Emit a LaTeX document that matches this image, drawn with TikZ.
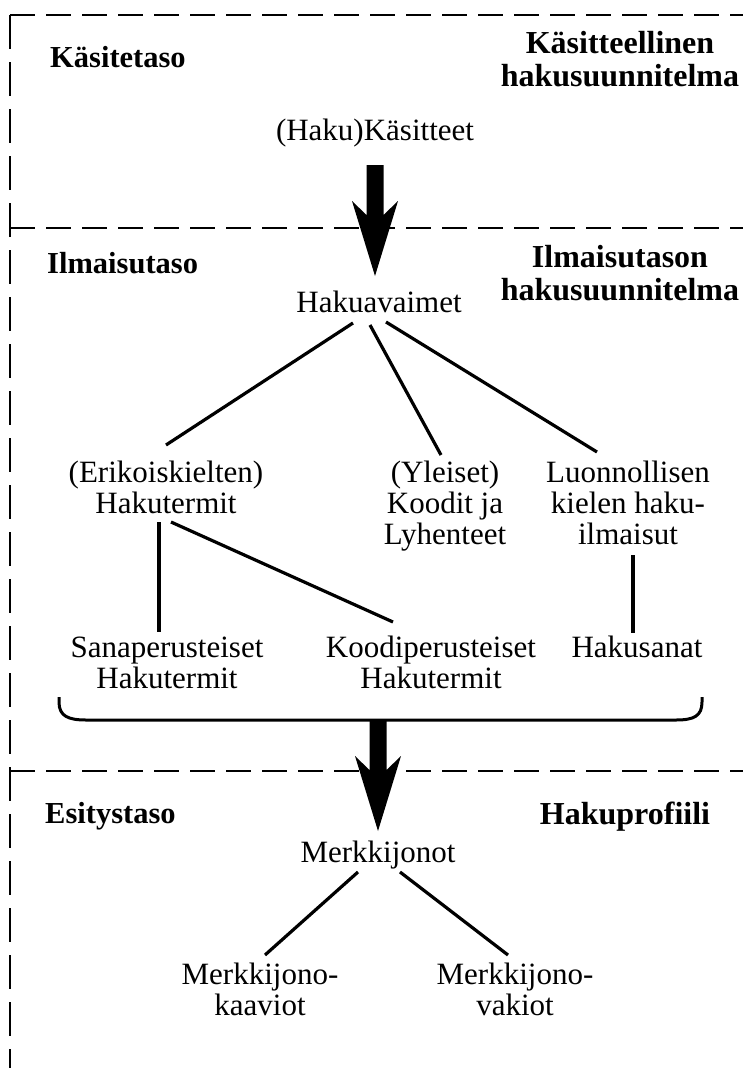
\documentclass[tikz,border=0pt]{standalone}
\usepackage{fontspec}
\setmainfont{Liberation Serif}
\begin{document}
\begin{tikzpicture}[x=1pt,y=-1pt,
  reg/.style={font=\fontsize{31}{31}\selectfont, inner sep=0pt, align=center, anchor=base},
  lbl/.style={font=\fontsize{30.5}{33}\selectfont\bfseries, inner sep=0pt, anchor=base west},
  rhd/.style={font=\fontsize{32}{33}\selectfont\bfseries, inner sep=0pt, align=center, anchor=base},
  conn/.style={line width=3.2pt},
  frameh/.style={line width=2.5pt, dash pattern=on 25pt off 11pt},
  framev/.style={line width=2.5pt, dash pattern=on 34pt off 13pt},
  bracket/.style={line width=3pt},
  bigarrow/.pic={\fill (-8.5,0) -- (8.5,0) -- (8.5,50) -- (23,36) -- (0,111) -- (-23,36) -- (-8.5,50) -- cycle;}
]
\useasboundingbox (0,0) rectangle (743,1068);

% dashed frame
\draw[frameh] (10,15) -- (743,15);
\draw[framev] (10,15) -- (10,1068);
\draw[frameh] (10,228) -- (743,228);
\draw[frameh] (10,771) -- (743,771);

% level labels
\node[lbl] (kt) at (50,67) {Käsitetaso};
\node[lbl] (it) at (47,273) {Ilmaisutaso};
\node[lbl] (et) at (45,823) {Esitystaso};
\node[rhd] (khs) at (620,86) {Käsitteellinen\\hakusuunnitelma};
\node[rhd] (ihs) at (620,300) {Ilmaisutason\\hakusuunnitelma};
\node[rhd] (hp) at (625,824) {Hakuprofiili};

% content nodes (base = baseline of last line)
\node[reg] (hk) at (375,140) {(Haku)Käsitteet};
\node[reg] (ha) at (379,312) {Hakuavaimet};
\node[reg] (erik) at (166,513) {(Erikoiskielten)\\Hakutermit};
\node[reg] (yl) at (445,544) {(Yleiset)\\Koodit ja\\Lyhenteet};
\node[reg] (luon) at (628,544) {Luonnollisen\\kielen haku-\\ilmaisut};
\node[reg] (sana) at (167,688) {Sanaperusteiset\\Hakutermit};
\node[reg] (koodi) at (431,688) {Koodiperusteiset\\Hakutermit};
\node[reg] (hs) at (637,657) {Hakusanat};
\node[reg] (mj) at (378,862) {Merkkijonot};
\node[reg] (mjk) at (260,1015) {Merkkijono-\\kaaviot};
\node[reg] (mjv) at (515,1015) {Merkkijono-\\vakiot};

% connectors
\draw[conn] ([shift={(-26,11)}]ha.base) -- ([shift={(0,-68)}]erik.base);
\draw[conn] ([shift={(-9,13)}]ha.base) -- ([shift={(-4,-89)}]yl.base);
\draw[conn] ([shift={(7,10)}]ha.base) -- ([shift={(-31,-92)}]luon.base);
\draw[conn] ([shift={(-7,9)}]erik.base) -- ([shift={(-8,-56)}]sana.base);
\draw[conn] ([shift={(5,9)}]erik.base) -- ([shift={(-38,-66)}]koodi.base);
\draw[conn] ([shift={(5,11)}]luon.base) -- ([shift={(-4,-24)}]hs.base);
\draw[conn] ([shift={(-20,10)}]mj.base) -- ([shift={(5,-60)}]mjk.base);
\draw[conn] ([shift={(22,10)}]mj.base) -- ([shift={(-7,-60)}]mjv.base);

% bracket
\coordinate (brl) at (59,697);
\coordinate (brr) at (702,697);
\coordinate (brm) at (378,720);
\draw[bracket] (brl) -- (59,702) .. controls (59,716) and (68,720) .. (86,720) -- (676,720) .. controls (694,720) and (702,716) .. (702,702) -- (brr);

% big arrows
\pic at (375,165) {bigarrow};
\pic at (brm) {bigarrow};
\end{tikzpicture}
\end{document}
